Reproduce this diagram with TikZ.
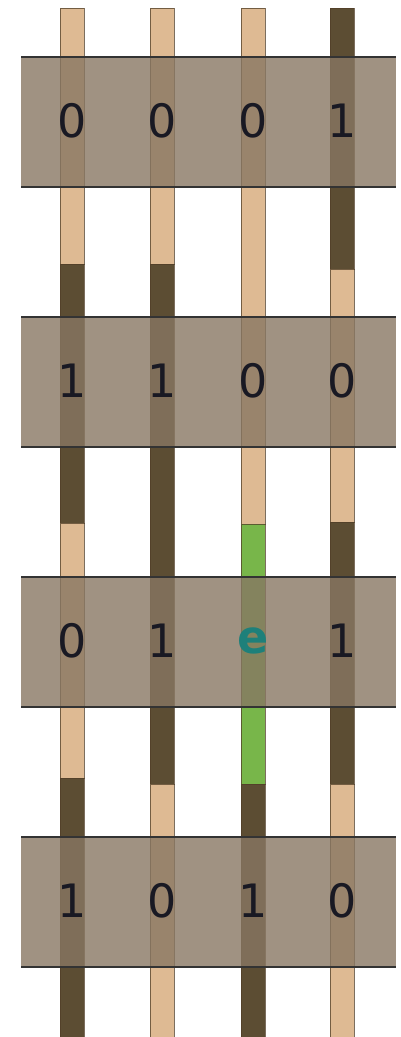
\documentclass[tikz,border=0pt]{standalone}
\usepackage{fontspec}
\setmainfont{DejaVu Sans}
\definecolor{tanc}{RGB}{222,186,147}
\definecolor{dkc}{RGB}{92,77,51}
\definecolor{grnc}{RGB}{120,182,74}
\definecolor{bandc}{RGB}{136,119,99}
\definecolor{edgec}{RGB}{80,62,40}
\definecolor{digitc}{RGB}{25,25,35}
\definecolor{ecol}{RGB}{30,128,122}
\begin{document}
\begin{tikzpicture}[x=1pt,y=-1pt,
  seg/.style={draw=edgec, draw opacity=0.75, line width=0.9pt},
  bandbox/.style={fill=bandc, fill opacity=0.8},
  bandline/.style={draw=black!80, line width=2pt},
  val/.style={font=\fontsize{46}{46}\selectfont, text=digitc, inner sep=0pt, anchor=base},
  errval/.style={val, font=\fontsize{46}{46}\selectfont\bfseries, text=ecol}]
\useasboundingbox (0,0) rectangle (401,1037);
% bars
\newcommand{\barseg}[4]{\draw[seg, fill=#4] (#1-12,#2) rectangle (#1+12,#3);}
% bar 1
\barseg{72}{8}{264}{tanc}
\barseg{72}{264}{523}{dkc}
\barseg{72}{523}{778}{tanc}
\barseg{72}{778}{1040}{dkc}
% bar 2
\barseg{162}{8}{264}{tanc}
\barseg{162}{264}{784}{dkc}
\barseg{162}{784}{1040}{tanc}
% bar 3
\barseg{253}{8}{524}{tanc}
\barseg{253}{524}{784}{grnc}
\barseg{253}{784}{1040}{dkc}
% bar 4
\barseg{342}{8}{269}{dkc}
\barseg{342}{269}{522}{tanc}
\barseg{342}{522}{784}{dkc}
\barseg{342}{784}{1040}{tanc}
% bands
\foreach \k in {0,1,2,3}{
  \fill[bandbox] (21,57+260*\k) rectangle (396,187+260*\k);
  \draw[bandline] (21,57+260*\k) -- (396,57+260*\k);
  \draw[bandline] (21,187+260*\k) -- (396,187+260*\k);
}
% values
\node[val] (a1) at (72,137) {0};
\node[val] (b1) at (162,137) {0};
\node[val] (c1) at (253,137) {0};
\node[val] (d1) at (342,137) {1};
\node[val] (a2) at (72,397) {1};
\node[val] (b2) at (162,397) {1};
\node[val] (c2) at (253,397) {0};
\node[val] (d2) at (342,397) {0};
\node[val] (a3) at (72,657) {0};
\node[val] (b3) at (162,657) {1};
\node[errval] (c3) at (253,653) {e};
\node[val] (d3) at (342,657) {1};
\node[val] (a4) at (72,917) {1};
\node[val] (b4) at (162,917) {0};
\node[val] (c4) at (253,917) {1};
\node[val] (d4) at (342,917) {0};
\end{tikzpicture}
\end{document}
